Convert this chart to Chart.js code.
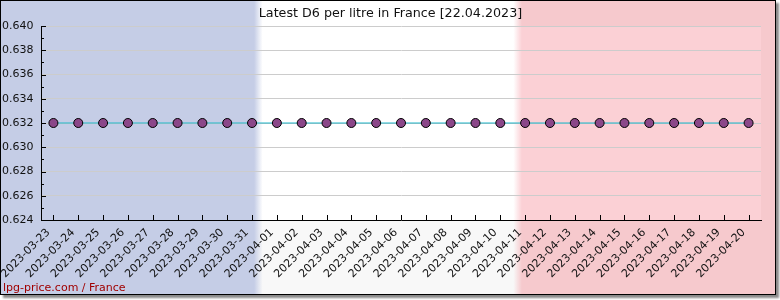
<!DOCTYPE html>
<html>
<head>
<meta charset="utf-8">
<script src="https://cdn.jsdelivr.net/npm/chart.js@4.4.1/dist/chart.umd.min.js"></script>
<style>
  body { margin: 0; background: #fff; }
  #wrap {
    position: absolute; left: 0; top: 0;
    width: 774px; height: 293px;
    border: 1px solid #000;
    box-shadow: 3px 3px 2px #8a8a8a;
  }
  canvas { display: block; }
</style>
</head>
<body>
<div id="wrap"><canvas id="priceChart" width="774" height="293"></canvas></div>
<script>
// Chart data
const dates = [
    '2023-03-23', '2023-03-24', '2023-03-25', '2023-03-26', '2023-03-27',
    '2023-03-28', '2023-03-29', '2023-03-30', '2023-03-31', '2023-04-01',
    '2023-04-02', '2023-04-03', '2023-04-04', '2023-04-05', '2023-04-06',
    '2023-04-07', '2023-04-08', '2023-04-09', '2023-04-10', '2023-04-11',
    '2023-04-12', '2023-04-13', '2023-04-14', '2023-04-15', '2023-04-16',
    '2023-04-17', '2023-04-18', '2023-04-19', '2023-04-20',
];
const prices = [
    0.632, 0.632, 0.632, 0.632, 0.632, 0.632, 0.632, 0.632, 0.632, 0.632,
    0.632, 0.632, 0.632, 0.632, 0.632, 0.632, 0.632, 0.632, 0.632, 0.632,
    0.632, 0.632, 0.632, 0.632, 0.632, 0.632, 0.632, 0.632, 0.632,
];
const yMin = 0.624;
const yMax = 0.640;
const yStep = 0.002;

const titleText = 'Latest D6 per litre in France [22.04.2023]';
const footerText = 'lpg-price.com / France';

const FONT = "'DejaVu Sans', sans-serif";

function flagGradient(ctx, width, blue, white, red) {
    const g = ctx.createLinearGradient(0, 0, width, 0);
    g.addColorStop(0, blue);
    g.addColorStop(0.327, blue);
    g.addColorStop(0.338, white);
    g.addColorStop(0.662, white);
    g.addColorStop(0.673, red);
    g.addColorStop(1, red);
    return g;
}

// French flag background
const flagBackground = {
    id: 'flagBackground',
    beforeDraw(chart) {
        const { ctx, width, height, chartArea: a } = chart;
        ctx.save();
        ctx.fillStyle = flagGradient(ctx, width, '#c5cde6', '#ffffff', '#f6c9cd');
        ctx.fillRect(0, 0, width, height);
        ctx.fillStyle = flagGradient(ctx, width, '#c5cde6', '#f8f8f8', '#f6c9cd');
        ctx.fillRect(0, a.bottom, width, height - a.bottom);
        ctx.fillStyle = flagGradient(ctx, width, '#c5cde6', '#ffffff', '#fbd0d5');
        ctx.fillRect(a.left, a.top, a.right - a.left, a.bottom - a.top);
        ctx.restore();
    },
};

// inward tick marks, minor y ticks, title and footer text
const tickMarks = {
    id: 'tickMarks',
    afterDraw(chart) {
        const { ctx, chartArea: a } = chart;
        const x = chart.scales.x;
        const y = chart.scales.y;
        ctx.save();
        ctx.strokeStyle = '#000';
        ctx.lineWidth = 1;
        ctx.beginPath();
        for (let v = yMin; v <= yMax + 1e-9; v += yStep / 2) {
            const major = Math.round((v - yMin) / (yStep / 2)) % 2 === 0;
            const py = Math.round(y.getPixelForValue(v)) + 0.5;
            ctx.moveTo(a.left, py);
            ctx.lineTo(a.left + (major ? 5 : 3), py);
        }
        dates.forEach((d, i) => {
            const px = Math.round(x.getPixelForValue(i)) + 0.5;
            ctx.moveTo(px, a.bottom);
            ctx.lineTo(px, a.bottom - 5);
        });
        ctx.stroke();

        ctx.fillStyle = '#111';
        ctx.font = '12.7px ' + FONT;
        ctx.textBaseline = 'middle';
        ctx.textAlign = 'center';
        ctx.fillText(titleText, 389.5, 12.5);

        ctx.fillStyle = '#a00000';
        ctx.font = '11px ' + FONT;
        ctx.textAlign = 'left';
        ctx.fillText(footerText, 2, chart.height - 6);
        ctx.restore();
    },
};

const ctx = document.getElementById('priceChart').getContext('2d');

new Chart(ctx, {
    type: 'line',
    data: {
        labels: dates,
        datasets: [{
            label: 'D6',
            data: prices,
            borderColor: '#1fb6c9',
            borderWidth: 1,
            pointBackgroundColor: '#8b4789',
            pointBorderColor: '#000',
            pointBorderWidth: 1,
            pointRadius: 4.5,
            pointStyle: 'circle',
            tension: 0,
        }],
    },
    options: {
        responsive: false,
        animation: false,
        devicePixelRatio: 1,
        layout: { padding: { left: 1, right: 14, top: 25, bottom: 0 } },
        plugins: {
            legend: { display: false },
            tooltip: { enabled: false },
            title: { display: false },
        },
        scales: {
            x: {
                type: 'category',
                offset: true,
                grid: { display: false, drawTicks: false },
                border: { display: true, color: '#000', width: 1 },
                ticks: {
                    color: '#111',
                    font: { family: FONT, size: 11 },
                    minRotation: 45,
                    maxRotation: 45,
                    autoSkip: false,
                    padding: 6,
                    labelOffset: -5,
                },
                afterFit(scale) { scale.height = 74; },
            },
            y: {
                min: yMin,
                max: yMax,
                grid: { color: '#cccccc', drawTicks: false },
                border: { display: true, color: '#000', width: 1 },
                ticks: {
                    stepSize: yStep,
                    color: '#111',
                    font: { family: FONT, size: 11 },
                    crossAlign: 'far',
                    padding: 4,
                    callback: (v) => Number(v).toFixed(3),
                },
                afterFit(scale) { scale.width = 39; },
            },
        },
    },
    plugins: [flagBackground, tickMarks],
});
</script>
</body>
</html>
